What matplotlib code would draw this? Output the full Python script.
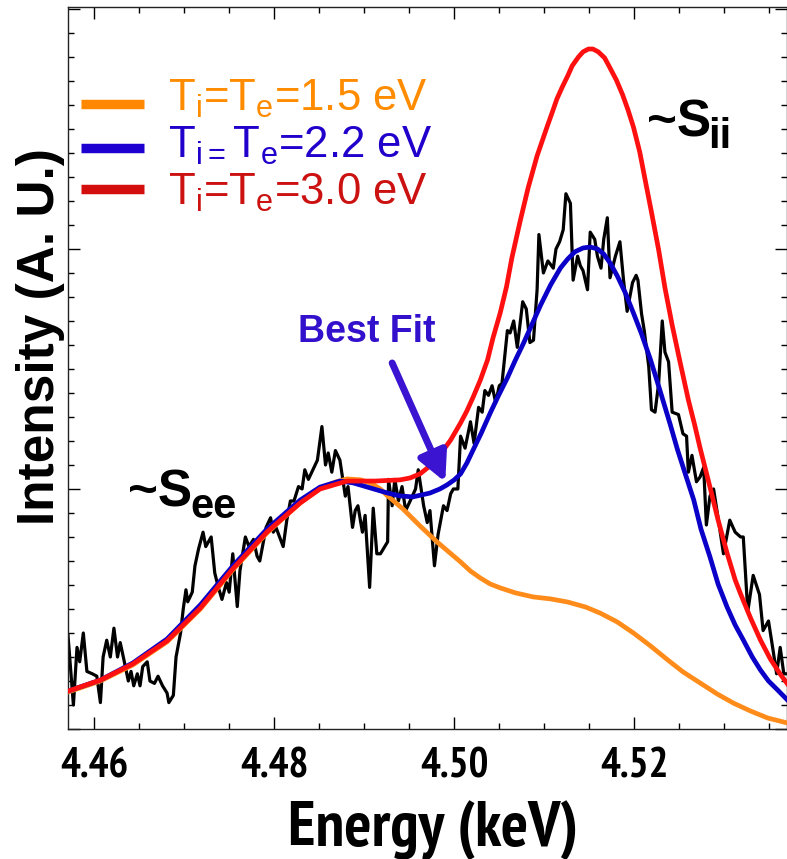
import numpy as np
import matplotlib
matplotlib.use("Agg")
import matplotlib.pyplot as plt
from matplotlib.ticker import MultipleLocator

plt.rcParams['font.family'] = ['Liberation Sans', 'DejaVu Sans']
plt.rcParams['mathtext.fontset'] = 'custom'
plt.rcParams['mathtext.rm'] = 'Liberation Sans'
plt.rcParams['mathtext.bf'] = 'Liberation Sans:bold'

NARROW = ['PT Sans Narrow', 'Roboto Condensed', 'DejaVu Sans']

# measured spectrum (keV, arbitrary units)
energy = [
    4.4571, 4.4577, 4.4581, 4.4584, 4.4588, 4.4592, 4.4598, 4.4603, 4.4607, 4.4610,
    4.4614, 4.4618, 4.4622, 4.4626, 4.4629, 4.4633, 4.4638, 4.4641, 4.4644, 4.4648,
    4.4651, 4.4654, 4.4659, 4.4662, 4.4667, 4.4671, 4.4676, 4.4681, 4.4683, 4.4688,
    4.4691, 4.4696, 4.4699, 4.4702, 4.4704, 4.4709, 4.4712, 4.4716, 4.4721, 4.4724,
    4.4730, 4.4734, 4.4738, 4.4742, 4.4747, 4.4750, 4.4754, 4.4759, 4.4762, 4.4768,
    4.4772, 4.4777, 4.4781, 4.4784, 4.4788, 4.4791, 4.4796, 4.4799, 4.4802, 4.4806,
    4.4810, 4.4814, 4.4818, 4.4822, 4.4827, 4.4831, 4.4834, 4.4838, 4.4843, 4.4848,
    4.4853, 4.4857, 4.4860, 4.4864, 4.4868, 4.4873, 4.4879, 4.4882, 4.4887, 4.4890,
    4.4893, 4.4898, 4.4901, 4.4906, 4.4910, 4.4914, 4.4918, 4.4926, 4.4927, 4.4931,
    4.4934, 4.4938, 4.4942, 4.4946, 4.4951, 4.4957, 4.4960, 4.4966, 4.4970, 4.4973,
    4.4978, 4.4982, 4.4988, 4.4992, 4.4996, 4.4999, 4.5004, 4.5007, 4.5012, 4.5018,
    4.5022, 4.5027, 4.5031, 4.5034, 4.5038, 4.5042, 4.5046, 4.5050, 4.5053, 4.5059,
    4.5062, 4.5066, 4.5070, 4.5076, 4.5080, 4.5084, 4.5088, 4.5092, 4.5094, 4.5099,
    4.5104, 4.5110, 4.5113, 4.5117, 4.5121, 4.5124, 4.5129, 4.5132, 4.5137, 4.5140,
    4.5143, 4.5148, 4.5151, 4.5156, 4.5159, 4.5163, 4.5166, 4.5170, 4.5173, 4.5179,
    4.5184, 4.5188, 4.5192, 4.5198, 4.5202, 4.5204, 4.5208, 4.5211, 4.5216, 4.5219,
    4.5223, 4.5227, 4.5231, 4.5234, 4.5238, 4.5242, 4.5249, 4.5254, 4.5258, 4.5260,
    4.5264, 4.5269, 4.5273, 4.5277, 4.5280, 4.5284, 4.5288, 4.5293, 4.5299, 4.5306,
    4.5312, 4.5318, 4.5321, 4.5326, 4.5332, 4.5339, 4.5343, 4.5349, 4.5354, 4.5358,
    4.5362, 4.5366, 4.5370,
]
intensity = [
    0.39, 0.10, 0.34, 0.28, 0.40, 0.24, 0.23, 0.22, 0.11, 0.30,
    0.37, 0.30, 0.42, 0.30, 0.36, 0.29, 0.20, 0.24, 0.18, 0.23,
    0.18, 0.26, 0.28, 0.20, 0.19, 0.22, 0.18, 0.15, 0.11, 0.14,
    0.30, 0.40, 0.50, 0.58, 0.53, 0.57, 0.68, 0.75, 0.82, 0.76,
    0.80, 0.65, 0.59, 0.54, 0.61, 0.57, 0.73, 0.51, 0.66, 0.80,
    0.76, 0.79, 0.72, 0.70, 0.78, 0.84, 0.88, 0.82, 0.84, 0.80,
    0.76, 0.87, 0.95, 0.95, 1.01, 1.00, 1.08, 1.04, 1.08, 1.12,
    1.26, 1.10, 1.15, 1.07, 1.16, 1.12, 0.97, 1.01, 0.84, 0.91,
    0.93, 0.82, 0.89, 0.59, 0.92, 0.73, 0.73, 0.78, 1.04, 0.93,
    1.04, 0.95, 1.01, 0.91, 0.95, 1.00, 1.08, 0.93, 0.86, 0.91,
    0.68, 0.81, 0.93, 0.91, 0.98, 1.00, 1.00, 1.22, 1.17, 1.28,
    1.19, 1.34, 1.32, 1.41, 1.39, 1.43, 1.36, 1.43, 1.44, 1.66,
    1.65, 1.70, 1.59, 1.78, 1.75, 1.61, 1.62, 1.83, 2.06, 1.90,
    1.95, 1.92, 2.00, 2.03, 2.08, 2.23, 2.19, 1.87, 1.97, 1.93,
    1.91, 1.83, 2.07, 2.04, 1.97, 1.92, 2.04, 2.13, 1.88, 1.97,
    2.03, 1.87, 1.74, 1.86, 1.89, 1.87, 1.73, 1.66, 1.51, 1.33,
    1.32, 1.44, 1.70, 1.57, 1.53, 1.32, 1.31, 1.23, 1.22, 1.07,
    1.14, 1.03, 1.05, 1.09, 0.85, 0.97, 1.00, 0.88, 0.73, 0.87,
    0.82, 0.80, 0.80, 0.49, 0.64, 0.56, 0.41, 0.45, 0.33, 0.23,
    0.34, 0.23, 0.23,
]

# synthetic spectra, Ti = Te = 1.5 eV
e_15 = [4.4571, 4.4607, 4.4643, 4.4681, 4.4718, 4.4754, 4.4792, 4.4829, 4.4851, 4.4868,
        4.4881, 4.4896, 4.4907, 4.4918, 4.4926, 4.4943, 4.4962, 4.4981, 4.5007, 4.5018,
        4.5029, 4.5040, 4.5051, 4.5068, 4.5088, 4.5107, 4.5126, 4.5146, 4.5162, 4.5181,
        4.5199, 4.5218, 4.5237, 4.5254, 4.5273, 4.5292, 4.5310, 4.5329, 4.5348, 4.5370]
s_15 = [0.154, 0.200, 0.267, 0.363, 0.500, 0.663, 0.817, 0.942, 1.004, 1.029,
        1.042, 1.038, 1.025, 1.000, 0.971, 0.917, 0.846, 0.779, 0.696, 0.658,
        0.629, 0.604, 0.588, 0.567, 0.550, 0.542, 0.529, 0.508, 0.483, 0.446,
        0.400, 0.346, 0.288, 0.238, 0.192, 0.146, 0.108, 0.075, 0.046, 0.025]

# Ti = Te = 2.2 eV (best fit)
e_22 = [4.4571, 4.4607, 4.4643, 4.4681, 4.4718, 4.4754, 4.4792, 4.4829, 4.4851, 4.4873,
        4.4888, 4.4907, 4.4926, 4.4940, 4.4954, 4.4973, 4.4984, 4.4992, 4.5000, 4.5007,
        4.5014, 4.5021, 4.5030, 4.5040, 4.5049, 4.5059, 4.5068, 4.5077, 4.5086, 4.5096,
        4.5107, 4.5118, 4.5126, 4.5134, 4.5143, 4.5151, 4.5159, 4.5166, 4.5173, 4.5181,
        4.5190, 4.5199, 4.5208, 4.5218, 4.5229, 4.5240, 4.5248, 4.5257, 4.5266, 4.5274,
        4.5284, 4.5293, 4.5303, 4.5312, 4.5321, 4.5331, 4.5340, 4.5349, 4.5359, 4.5370]
s_22 = [0.158, 0.204, 0.275, 0.375, 0.517, 0.679, 0.833, 0.954, 1.008, 1.033,
        1.025, 1.004, 0.983, 0.971, 0.967, 0.983, 1.000, 1.017, 1.038, 1.063,
        1.108, 1.163, 1.233, 1.317, 1.388, 1.463, 1.538, 1.608, 1.683, 1.767,
        1.850, 1.921, 1.958, 1.988, 2.004, 2.008, 2.000, 1.979, 1.942, 1.888,
        1.817, 1.733, 1.646, 1.538, 1.404, 1.267, 1.163, 1.058, 0.954, 0.833,
        0.717, 0.604, 0.508, 0.433, 0.371, 0.300, 0.246, 0.200, 0.163, 0.121]

# Ti = Te = 3.0 eV
e_30 = [4.4571, 4.4607, 4.4643, 4.4681, 4.4718, 4.4754, 4.4792, 4.4829, 4.4851, 4.4881,
        4.4912, 4.4940, 4.4951, 4.4962, 4.4973, 4.4984, 4.4996, 4.5007, 4.5014, 4.5021,
        4.5029, 4.5037, 4.5043, 4.5051, 4.5058, 4.5064, 4.5073, 4.5082, 4.5092, 4.5103,
        4.5109, 4.5114, 4.5120, 4.5126, 4.5131, 4.5138, 4.5143, 4.5149, 4.5154, 4.5160,
        4.5167, 4.5173, 4.5180, 4.5187, 4.5193, 4.5199, 4.5206, 4.5212, 4.5219, 4.5227,
        4.5234, 4.5242, 4.5251, 4.5260, 4.5267, 4.5273, 4.5284, 4.5293, 4.5303, 4.5312,
        4.5318, 4.5329, 4.5340, 4.5351, 4.5362, 4.5370]
s_30 = [0.158, 0.204, 0.271, 0.367, 0.504, 0.667, 0.821, 0.942, 1.000, 1.033,
        1.033, 1.038, 1.046, 1.063, 1.096, 1.142, 1.204, 1.275, 1.325, 1.383,
        1.454, 1.538, 1.629, 1.733, 1.842, 1.963, 2.113, 2.254, 2.388, 2.508,
        2.571, 2.625, 2.675, 2.721, 2.763, 2.800, 2.821, 2.833, 2.833, 2.821,
        2.796, 2.754, 2.704, 2.642, 2.579, 2.508, 2.404, 2.288, 2.154, 1.996,
        1.838, 1.683, 1.525, 1.371, 1.267, 1.171, 1.008, 0.871, 0.733, 0.621,
        0.563, 0.463, 0.371, 0.292, 0.229, 0.188]

legend_labels = [
    r'T$_\mathregular{i}$=T$_\mathregular{e}$=1.5 eV',
    r'T$_\mathregular{i=}$T$_\mathregular{e}$=2.2 eV',
    r'T$_\mathregular{i}$=T$_\mathregular{e}$=3.0 eV',
]
legend_line_colors = ['#ff8800', '#1e00d0', '#d40d0d']
legend_text_colors = ['#ff8c00', '#2200cc', '#cc1111']

x_ticks = [4.46, 4.48, 4.50, 4.52]
x_tick_labels = ['4.46', '4.48', '4.50', '4.52']

fig = plt.figure(figsize=(7.87, 8.59), dpi=100)
ax = fig.add_axes([68 / 787, 130 / 859, 718.5 / 787, 722 / 859])

ax.plot(energy, intensity, color='black', lw=2.3, zorder=2)
ax.plot(e_15, s_15, color='#ff8c1a', lw=3.4, zorder=3)
ax.plot(e_22, s_22, color='#0a00c8', lw=3.4, zorder=4)
ax.plot(e_30, s_30, color='#ff1010', lw=3.4, zorder=5)

ax.set_xlim(4.4571, 4.5369)
ax.set_ylim(0, 3.008)

ax.set_xticks(x_ticks, labels=x_tick_labels, fontsize=30, fontweight='bold',
              family=NARROW, fontstretch='condensed')
ax.xaxis.set_minor_locator(MultipleLocator(0.005))
ax.yaxis.set_major_locator(MultipleLocator(1.0))
ax.yaxis.set_minor_locator(MultipleLocator(0.1))
ax.set_yticklabels([])
ax.tick_params(which='both', direction='in', top=True, right=True, width=1.0)
ax.tick_params(which='major', length=8.6)
ax.tick_params(which='minor', length=4.3)
ax.tick_params(axis='x', which='major', pad=13)
for sp in ax.spines.values():
    sp.set_linewidth(1.0)
    sp.set_color('#222222')

ax.set_xlabel('Energy (keV)', fontsize=46, fontweight='bold',
              family=NARROW, fontstretch='condensed')
ax.xaxis.set_label_coords(0.508, -0.098)
ax.set_ylabel('Intensity (A. U.)', fontsize=37, fontweight='bold')
ax.yaxis.set_label_coords(-0.004, 0.543)

# legend drawn by hand: bar plus coloured label per model
bar_y = [0.8657, 0.8047, 0.7479]
text_y = [0.8560, 0.7909, 0.7258]
for lbl, lc, tc, by, ty in zip(legend_labels, legend_line_colors, legend_text_colors,
                               bar_y, text_y):
    ax.plot([0.0181, 0.1058], [by, by], color=lc, lw=6.8, solid_capstyle='butt',
            transform=ax.transAxes, zorder=6)
    ax.text(0.1392, ty, lbl, color=tc, fontsize=31.5, ha='left', va='baseline',
            transform=ax.transAxes, zorder=6)

# peak annotations
ax.text(4.4638, 0.925, '~S', fontsize=37, fontweight='bold', ha='left', va='baseline')
ax.text(4.4707, 0.879, 'ee', fontsize=30, fontweight='bold', ha='left', va='baseline')
ax.text(4.5214, 2.470, '~S', fontsize=37, fontweight='bold', ha='left', va='baseline')
ax.text(4.5282, 2.420, 'ii', fontsize=30, fontweight='bold', ha='left', va='baseline')

ax.text(4.4903, 1.654, 'Best Fit', fontsize=27, fontweight='bold', color='#3311cc',
        ha='center', va='center')
ax.annotate('', xy=(4.4990, 1.029), xytext=(4.4931, 1.525),
            arrowprops=dict(arrowstyle='-|>,head_length=0.55,head_width=0.28',
                            mutation_scale=32, lw=5, color='#3a14d0',
                            shrinkA=0, shrinkB=0), zorder=6)

fig.savefig('out.png', dpi=100)
